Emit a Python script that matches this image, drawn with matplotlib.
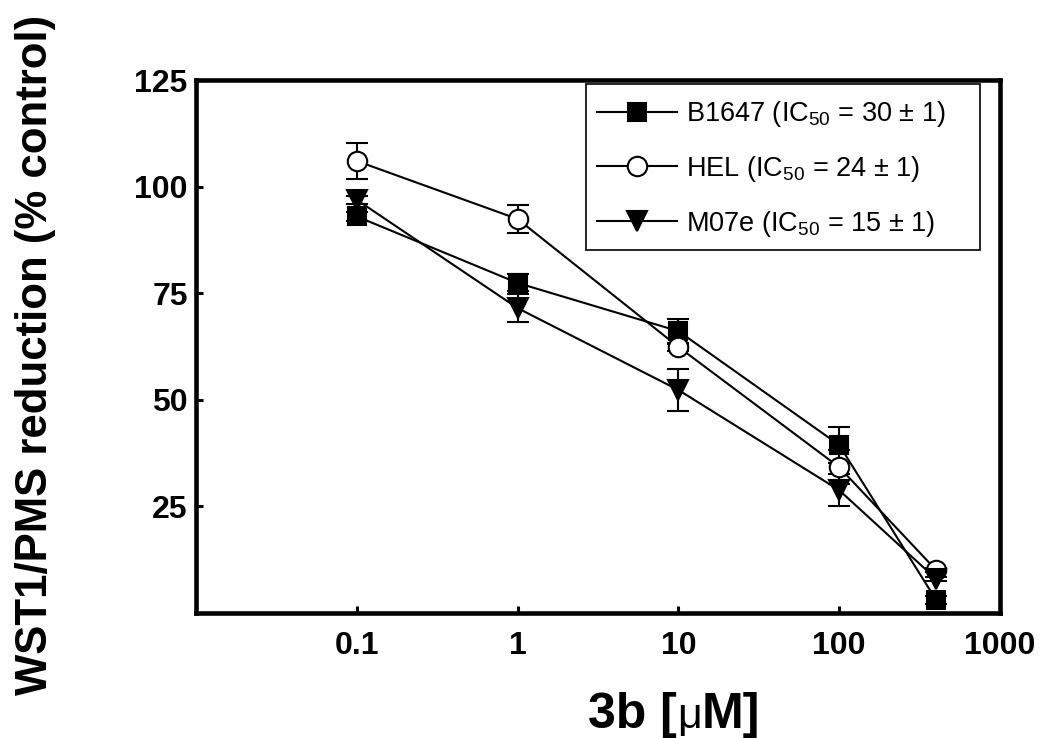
import numpy as np
import matplotlib
matplotlib.use("Agg")
import matplotlib.pyplot as plt
from matplotlib.container import ErrorbarContainer
from matplotlib.patches import Rectangle

plt.rcParams['font.family'] = ['Liberation Sans', 'DejaVu Sans']
plt.rcParams['mathtext.fontset'] = 'custom'
plt.rcParams['mathtext.rm'] = 'Liberation Sans'
plt.rcParams['mathtext.it'] = 'Liberation Sans:italic'
plt.rcParams['mathtext.bf'] = 'Liberation Sans:bold'

conc = [0.1, 1, 10, 100, 400]

b1647 = [93.0, 77.4, 66.1, 39.4, 3.1]
b1647_err = [1.0, 2.0, 2.9, 4.2, 1.0]

hel = [106.0, 92.4, 62.4, 34.2, 10.1]
hel_err = [4.3, 3.3, 1.0, 4.0, 0.5]

m07e = [96.9, 71.5, 52.3, 28.8, 8.0]
m07e_err = [1.0, 3.3, 5.0, 3.7, 0.5]

labels = ["B1647 (IC$_{50}$ = 30 $\\pm$ 1)",
          "HEL (IC$_{50}$ = 24 $\\pm$ 1)",
          "M07e (IC$_{50}$ = 15 $\\pm$ 1)"]

xticks = [0.1, 1, 10, 100, 1000]
xticklabels = ["0.1", "1", "10", "100", "1000"]
yticks = [25, 50, 75, 100, 125]

W, H = 1050, 738
fig = plt.figure(figsize=(W / 100, H / 100), dpi=100)
ax = fig.add_axes([196 / W, 1 - 613 / H, (1000 - 196) / W, (613 - 80) / H])

common = dict(color='black', lw=1.5, capsize=8, capthick=1.5, elinewidth=1.5,
              markeredgewidth=1.5, markeredgecolor='black')
ax.errorbar(conc, b1647, yerr=b1647_err, marker='s', ms=13, mfc='black',
            label=labels[0], **common)
ax.errorbar(conc, hel, yerr=hel_err, marker='o', ms=14, mfc='white',
            label=labels[1], **common)
ax.errorbar(conc, m07e, yerr=m07e_err, marker='v', ms=15, mfc='black',
            label=labels[2], **common)

ax.set_xscale('log')
ax.set_xlim(0.01, 1000)
ax.set_ylim(0, 125)
ax.set_xticks(xticks)
ax.set_xticklabels(xticklabels)
ax.minorticks_off()
ax.set_yticks(yticks)
ax.tick_params(direction='in', length=5, width=2.2, labelsize=23, pad=6)
ax.tick_params(axis='x', pad=13)
for lab in ax.get_xticklabels() + ax.get_yticklabels():
    lab.set_fontweight('bold')
for sp in ax.spines.values():
    sp.set_linewidth(3.3)

# y label
fig.text(47 / W, 1 - 695 / H, "WST1/PMS reduction (% control)", fontsize=31.5,
         fontweight='bold', rotation=90, rotation_mode='anchor',
         ha='left', va='baseline')

# x label built from pieces (regular-weight mu)
fig.canvas.draw()
renderer = fig.canvas.get_renderer()
x0 = 588
yb = 1 - 728 / H
pieces = [("3b [", 'bold', 36), ("\u03bc", 'normal', 31), ("M]", 'bold', 36)]
for txt, wgt, fs in pieces:
    t = fig.text(x0 / W, yb, txt, fontsize=fs, fontweight=wgt,
                 ha='left', va='baseline')
    bb = t.get_window_extent(renderer)
    x0 = bb.x1

# legend
handles, labs = ax.get_legend_handles_labels()
h2 = [h[0] if isinstance(h, ErrorbarContainer) else h for h in handles]
leg = fig.legend(h2, labs, loc='upper left', bbox_to_anchor=(597 / W, 1 - 99 / H),
                 fontsize=19.5, frameon=False, handlelength=2.95,
                 borderaxespad=0, borderpad=0, labelspacing=0.92,
                 handletextpad=0.35)
fig.add_artist(Rectangle((586 / W, 1 - 250 / H), (980 - 586) / W, (250 - 84) / H,
                         transform=fig.transFigure, fill=False,
                         edgecolor='black', lw=1.2))

fig.savefig("out.png", dpi=100)
